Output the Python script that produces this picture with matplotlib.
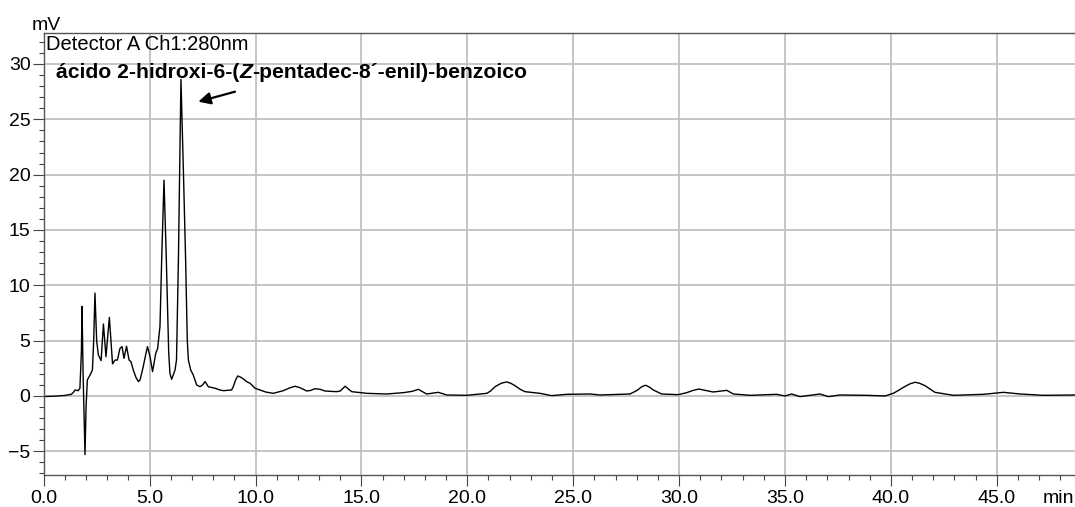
import matplotlib
matplotlib.use("Agg")
import matplotlib.pyplot as plt
from matplotlib.ticker import MultipleLocator, FormatStrFormatter

plt.rcParams['font.family'] = ['Liberation Sans', 'DejaVu Sans']

# chromatogram: time (min), signal (mV)
t_min = [0.0, 0.5, 1.0, 1.3, 1.39, 1.48, 1.63, 1.71, 1.78, 1.81, 1.86, 1.92, 1.95, 2.0,
         2.06, 2.19, 2.30, 2.36, 2.42, 2.50, 2.58, 2.71, 2.82, 2.94, 3.10, 3.25, 3.37,
         3.48, 3.60, 3.70, 3.79, 3.91, 4.03, 4.12, 4.23, 4.35, 4.47, 4.55, 4.70, 4.80,
         4.90, 5.02, 5.14, 5.29, 5.38, 5.49, 5.57, 5.68, 5.79, 5.90, 5.96, 6.04, 6.20,
         6.27, 6.36, 6.48, 6.60, 6.70, 6.78, 6.83, 6.94, 7.06, 7.22, 7.38, 7.50, 7.62,
         7.77, 8.09, 8.32, 8.48, 8.87, 8.95, 9.05, 9.16, 9.30, 9.43, 9.58, 9.74, 9.98,
         10.21, 10.50, 10.84, 11.31, 11.60, 11.87, 12.10, 12.42, 12.60, 12.81, 13.05,
         13.28, 13.83, 14.0, 14.23, 14.54, 15.25, 16.19, 16.98, 17.40, 17.69, 18.08,
         18.63, 19.03, 19.97, 20.92, 21.10, 21.31, 21.60, 21.86, 22.05, 22.25, 22.50,
         22.72, 23.43, 23.98, 24.69, 25.79, 26.26, 27.68, 27.99, 28.25, 28.42, 28.60,
         28.78, 29.18, 29.96, 30.36, 30.65, 30.94, 31.25, 31.61, 32.25, 32.56, 33.35,
         34.61, 35.0, 35.31, 35.71, 36.65, 37.04, 37.6, 38.86, 39.72, 40.11, 40.35,
         40.59, 40.90, 41.14, 41.35, 41.61, 42.08, 42.95, 44.37, 45.31, 46.10, 47.2,
         48.69]
signal_mv = [-0.05, -0.02, 0.05, 0.15, 0.3, 0.54, 0.48, 0.7, 4.0, 8.1, 2.0, -3.0, -5.3, -1.0,
             1.45, 1.9, 2.35, 5.0, 9.3, 5.0, 3.7, 3.2, 6.5, 3.55, 7.1, 2.9, 3.25,
             3.25, 4.3, 4.46, 3.4, 4.5, 3.25, 3.1, 2.35, 1.7, 1.3, 1.45, 2.65, 3.6,
             4.46, 3.55, 2.2, 3.86, 4.3, 6.3, 12.3, 19.5, 12.3, 4.0, 2.05, 1.5, 2.35,
             3.25, 12.3, 28.6, 20.0, 12.3, 5.0, 3.25, 2.35, 1.9, 1.0, 0.84, 1.0, 1.3,
             0.84, 0.7, 0.54, 0.48, 0.54, 0.84, 1.4, 1.81, 1.7, 1.54, 1.3, 1.15, 0.7,
             0.54, 0.35, 0.24, 0.48, 0.72, 0.88, 0.75, 0.45, 0.5, 0.66, 0.6,
             0.45, 0.39, 0.45, 0.88, 0.39, 0.24, 0.18, 0.3, 0.42, 0.6, 0.18,
             0.33, 0.09, 0.06, 0.24, 0.45, 0.84, 1.15, 1.27, 1.15, 0.93, 0.6,
             0.39, 0.24, 0.03, 0.15, 0.18, 0.09, 0.18, 0.48, 0.85, 0.97, 0.8,
             0.54, 0.18, 0.12, 0.3, 0.5, 0.63, 0.5, 0.36, 0.51, 0.18, 0.06,
             0.15, 0.0, 0.18, -0.06, 0.18, -0.06, 0.09, 0.06, 0.0, 0.24, 0.5,
             0.78, 1.1, 1.24, 1.15, 0.93, 0.33, 0.06, 0.15, 0.33, 0.18, 0.06,
             0.09]

W, H = 1075, 507
fig = plt.figure(figsize=(W / 100, H / 100), dpi=100)
ax = fig.add_axes([43.7 / W, (H - 475) / H, (W - 43.7) / W, (475 - 33) / H])

ax.plot(t_min, signal_mv, color='black', lw=1.0)

ax.set_xlim(0, 48.69)
ax.set_ylim(-7.14, 32.8)
ax.xaxis.set_major_locator(MultipleLocator(5))
ax.xaxis.set_minor_locator(MultipleLocator(1))
ax.xaxis.set_major_formatter(FormatStrFormatter('%.1f'))
ax.yaxis.set_major_locator(MultipleLocator(5))
ax.yaxis.set_minor_locator(MultipleLocator(1))

ax.grid(True, which='major', color='#c0c0c0', lw=1.3)
ax.set_axisbelow(True)
for s in ['left', 'bottom', 'top']:
    ax.spines[s].set_color('#555555')
    ax.spines[s].set_linewidth(1.0)
ax.spines['right'].set_visible(False)

ax.tick_params(which='major', direction='out', length=8, width=0.8, color='#444444',
               labelsize=14)
ax.tick_params(which='minor', direction='out', length=3.6, width=0.8, color='#444444')
ax.tick_params(axis='x', which='major', pad=3)
ax.tick_params(axis='y', which='major', pad=1.5)
ax.tick_params(top=False, right=False)

# axis unit labels and detector header
fig.text(46.5 / W, 1 - 29.5 / H, 'mV', fontsize=14, ha='center', va='baseline')
fig.text(1074 / W, 4 / H, 'min', fontsize=14, ha='right', va='baseline')
fig.text(46 / W, 1 - 50 / H, 'Detector A Ch1:280nm', fontsize=14.5, ha='left', va='baseline')

# compound label with italic Z
t1 = fig.text(56 / W, 1 - 78.3 / H, 'ácido 2-hidroxi-6-(', fontsize=15.2,
              fontweight='bold', ha='left', va='baseline')
t2 = ax.annotate('Z', xy=(1, 0), xycoords=t1, fontsize=15.2, fontweight='bold',
                 fontstyle='italic', ha='left', va='bottom')
ax.annotate('-pentadec-8´-enil)-benzoico', xy=(1, 0), xycoords=t2, fontsize=15.2,
            fontweight='bold', ha='left', va='bottom')

ax.annotate('', xy=(198.3, H - 101.7), xycoords='figure pixels',
            xytext=(235, H - 91.7), textcoords='figure pixels',
            arrowprops=dict(arrowstyle='-|>', color='black', lw=1.6, mutation_scale=18,
                            shrinkA=0, shrinkB=0))

fig.savefig('out.png', dpi=100)
